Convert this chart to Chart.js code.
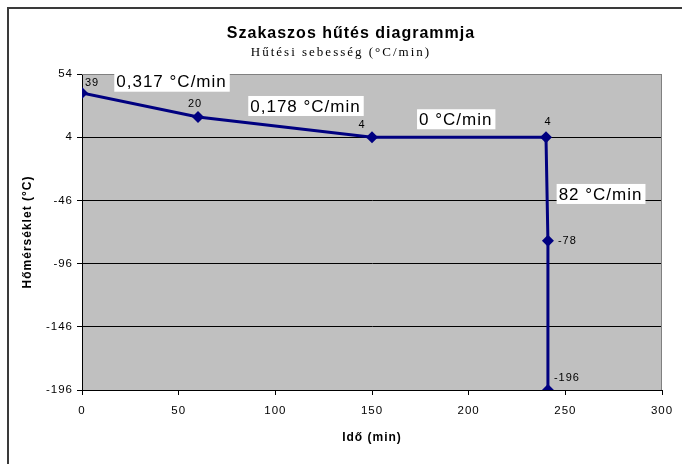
<!DOCTYPE html>
<html>
<head>
<meta charset="utf-8">
<script src="https://cdn.jsdelivr.net/npm/chart.js@4/dist/chart.umd.min.js"></script>
<style>
  html, body { margin: 0; padding: 0; background: #fff; }
</style>
</head>
<body>
<canvas id="chart" width="682" height="464"></canvas>
<script>
const chartTitle = "Szakaszos hűtés diagrammja";
const chartSubtitle = "Hűtési sebesség (°C/min)";
const xTitle = "Idő (min)";
const yTitle = "Hőmérséklet (°C)";

// time (min) and temperature (°C) of each step
const times = [0, 60, 150, 240, 241, 241];
const temps = [39, 20, 4, 4, -78, -196];

// cooling rate written next to each segment
const rateLabels = ["0,317 °C/min", "0,178 °C/min", "0 °C/min", "82 °C/min"];

const sans = "'Liberation Sans', Arial, sans-serif";
const serif = "'Liberation Serif', 'Times New Roman', serif";

const frameAndBackground = {
	id: "frameAndBackground",
	beforeDraw(chart) {
		const { ctx, chartArea: a } = chart;
		ctx.letterSpacing = "1px";
		ctx.save();
		ctx.fillStyle = "#c0c0c0";
		ctx.fillRect(a.left, a.top, a.right - a.left, a.bottom - a.top);
		ctx.strokeStyle = "#3a3a3a";
		ctx.lineWidth = 2;
		ctx.beginPath();
		ctx.moveTo(8, chart.height);
		ctx.lineTo(8, 8);
		ctx.lineTo(chart.width, 8);
		ctx.stroke();
		ctx.restore();
	},
	beforeDatasetsDraw(chart) {
		const { ctx, chartArea: a } = chart;
		ctx.save();
		ctx.strokeStyle = "#808080";
		ctx.lineWidth = 1;
		ctx.beginPath();
		ctx.moveTo(a.left, a.top + 0.5);
		ctx.lineTo(a.right - 0.5, a.top + 0.5);
		ctx.lineTo(a.right - 0.5, a.bottom);
		ctx.stroke();
		ctx.restore();
	},
};

const headings = {
	id: "headings",
	afterDraw(chart) {
		const ctx = chart.ctx;
		ctx.save();
		ctx.fillStyle = "#000";
		ctx.textAlign = "center";
		ctx.textBaseline = "alphabetic";
		ctx.font = "bold 16px " + sans;
		ctx.letterSpacing = "1px";
		ctx.fillText(chartTitle, 351, 38);
		ctx.font = "13px " + serif;
		ctx.letterSpacing = "2px";
		ctx.fillText(chartSubtitle, 341, 56);
		ctx.restore();
	},
};

const pointLabels = {
	id: "pointLabels",
	afterDatasetsDraw(chart, args, opts) {
		const meta = chart.getDatasetMeta(0);
		const ctx = chart.ctx;
		ctx.save();
		ctx.font = "11px " + sans;
		ctx.fillStyle = "#000";
		ctx.textBaseline = "middle";
		meta.data.forEach((pt, i) => {
			const [dx, dy, align] = opts.offsets[i];
			ctx.textAlign = align;
			ctx.fillText(String(temps[i]), pt.x + dx, pt.y + dy);
		});
		ctx.restore();
	},
};

const rateBoxes = {
	id: "rateBoxes",
	afterDatasetsDraw(chart, args, opts) {
		const { ctx, scales } = chart;
		ctx.save();
		ctx.font = "17px " + sans;
		ctx.textBaseline = "middle";
		ctx.textAlign = "left";
		rateLabels.forEach((text, i) => {
			const px = scales.x.getPixelForValue(opts.anchors[i][0]);
			const py = scales.y.getPixelForValue(opts.anchors[i][1]);
			const w = ctx.measureText(text).width + 5;
			ctx.fillStyle = "#fff";
			ctx.fillRect(px, py - 10, w, 20);
			ctx.fillStyle = "#000";
			ctx.fillText(text, px + 2, py + 1);
		});
		ctx.restore();
	},
};

new Chart(document.getElementById("chart"), {
	type: "scatter",
	data: {
		datasets: [
			{
				data: times.map((t, i) => ({ x: t, y: temps[i] })),
				showLine: true,
				borderColor: "#000080",
				backgroundColor: "#000080",
				borderWidth: 3,
				pointStyle: "rectRot",
				pointRadius: 6,
				pointBorderWidth: 0,
				tension: 0,
			},
		],
	},
	options: {
		responsive: false,
		animation: false,
		layout: {
			padding: { top: 74, right: 20, bottom: 0, left: 0 },
		},
		plugins: {
			legend: { display: false },
			tooltip: { enabled: false },
			pointLabels: {
				offsets: [
					[3, -10, "left"],
					[-3, -13, "center"],
					[-10, -12, "center"],
					[2, -15, "center"],
					[10, 0, "left"],
					[6, -12, "left"],
				],
			},
			rateBoxes: {
				anchors: [
					[16.7, 47.9],
					[86, 28.7],
					[173.3, 18.2],
					[245.5, -40.9],
				],
			},
		},
		scales: {
			x: {
				type: "linear",
				min: 0,
				max: 300,
				ticks: {
					stepSize: 50,
					color: "#000",
					padding: 9,
					maxRotation: 0,
					font: { family: sans, size: 11.5 },
				},
				grid: {
					drawOnChartArea: false,
					drawTicks: true,
					tickLength: 5,
					tickColor: "#000",
				},
				border: { color: "#000", width: 1 },
				title: {
					display: true,
					text: xTitle,
					color: "#000",
					font: { family: sans, size: 12, weight: "bold" },
					padding: { top: 0, bottom: 19 },
				},
				afterFit(scale) {
					scale.height = 74;
				},
			},
			y: {
				type: "linear",
				min: -196,
				max: 54,
				ticks: {
					stepSize: 50,
					color: "#000",
					padding: 4,
					font: { family: sans, size: 11.5 },
				},
				grid: {
					color: (c) => (c.tick && c.tick.value === 54 ? "#808080" : "#000"),
					tickLength: 5,
					tickColor: "#000",
				},
				border: { color: "#000", width: 1 },
				title: {
					display: true,
					text: yTitle,
					color: "#000",
					font: { family: sans, size: 12, weight: "bold" },
					padding: { top: 20, bottom: 0 },
				},
				afterFit(scale) {
					scale.width = 82;
				},
			},
		},
	},
	plugins: [frameAndBackground, headings, pointLabels, rateBoxes],
});
</script>
</body>
</html>
